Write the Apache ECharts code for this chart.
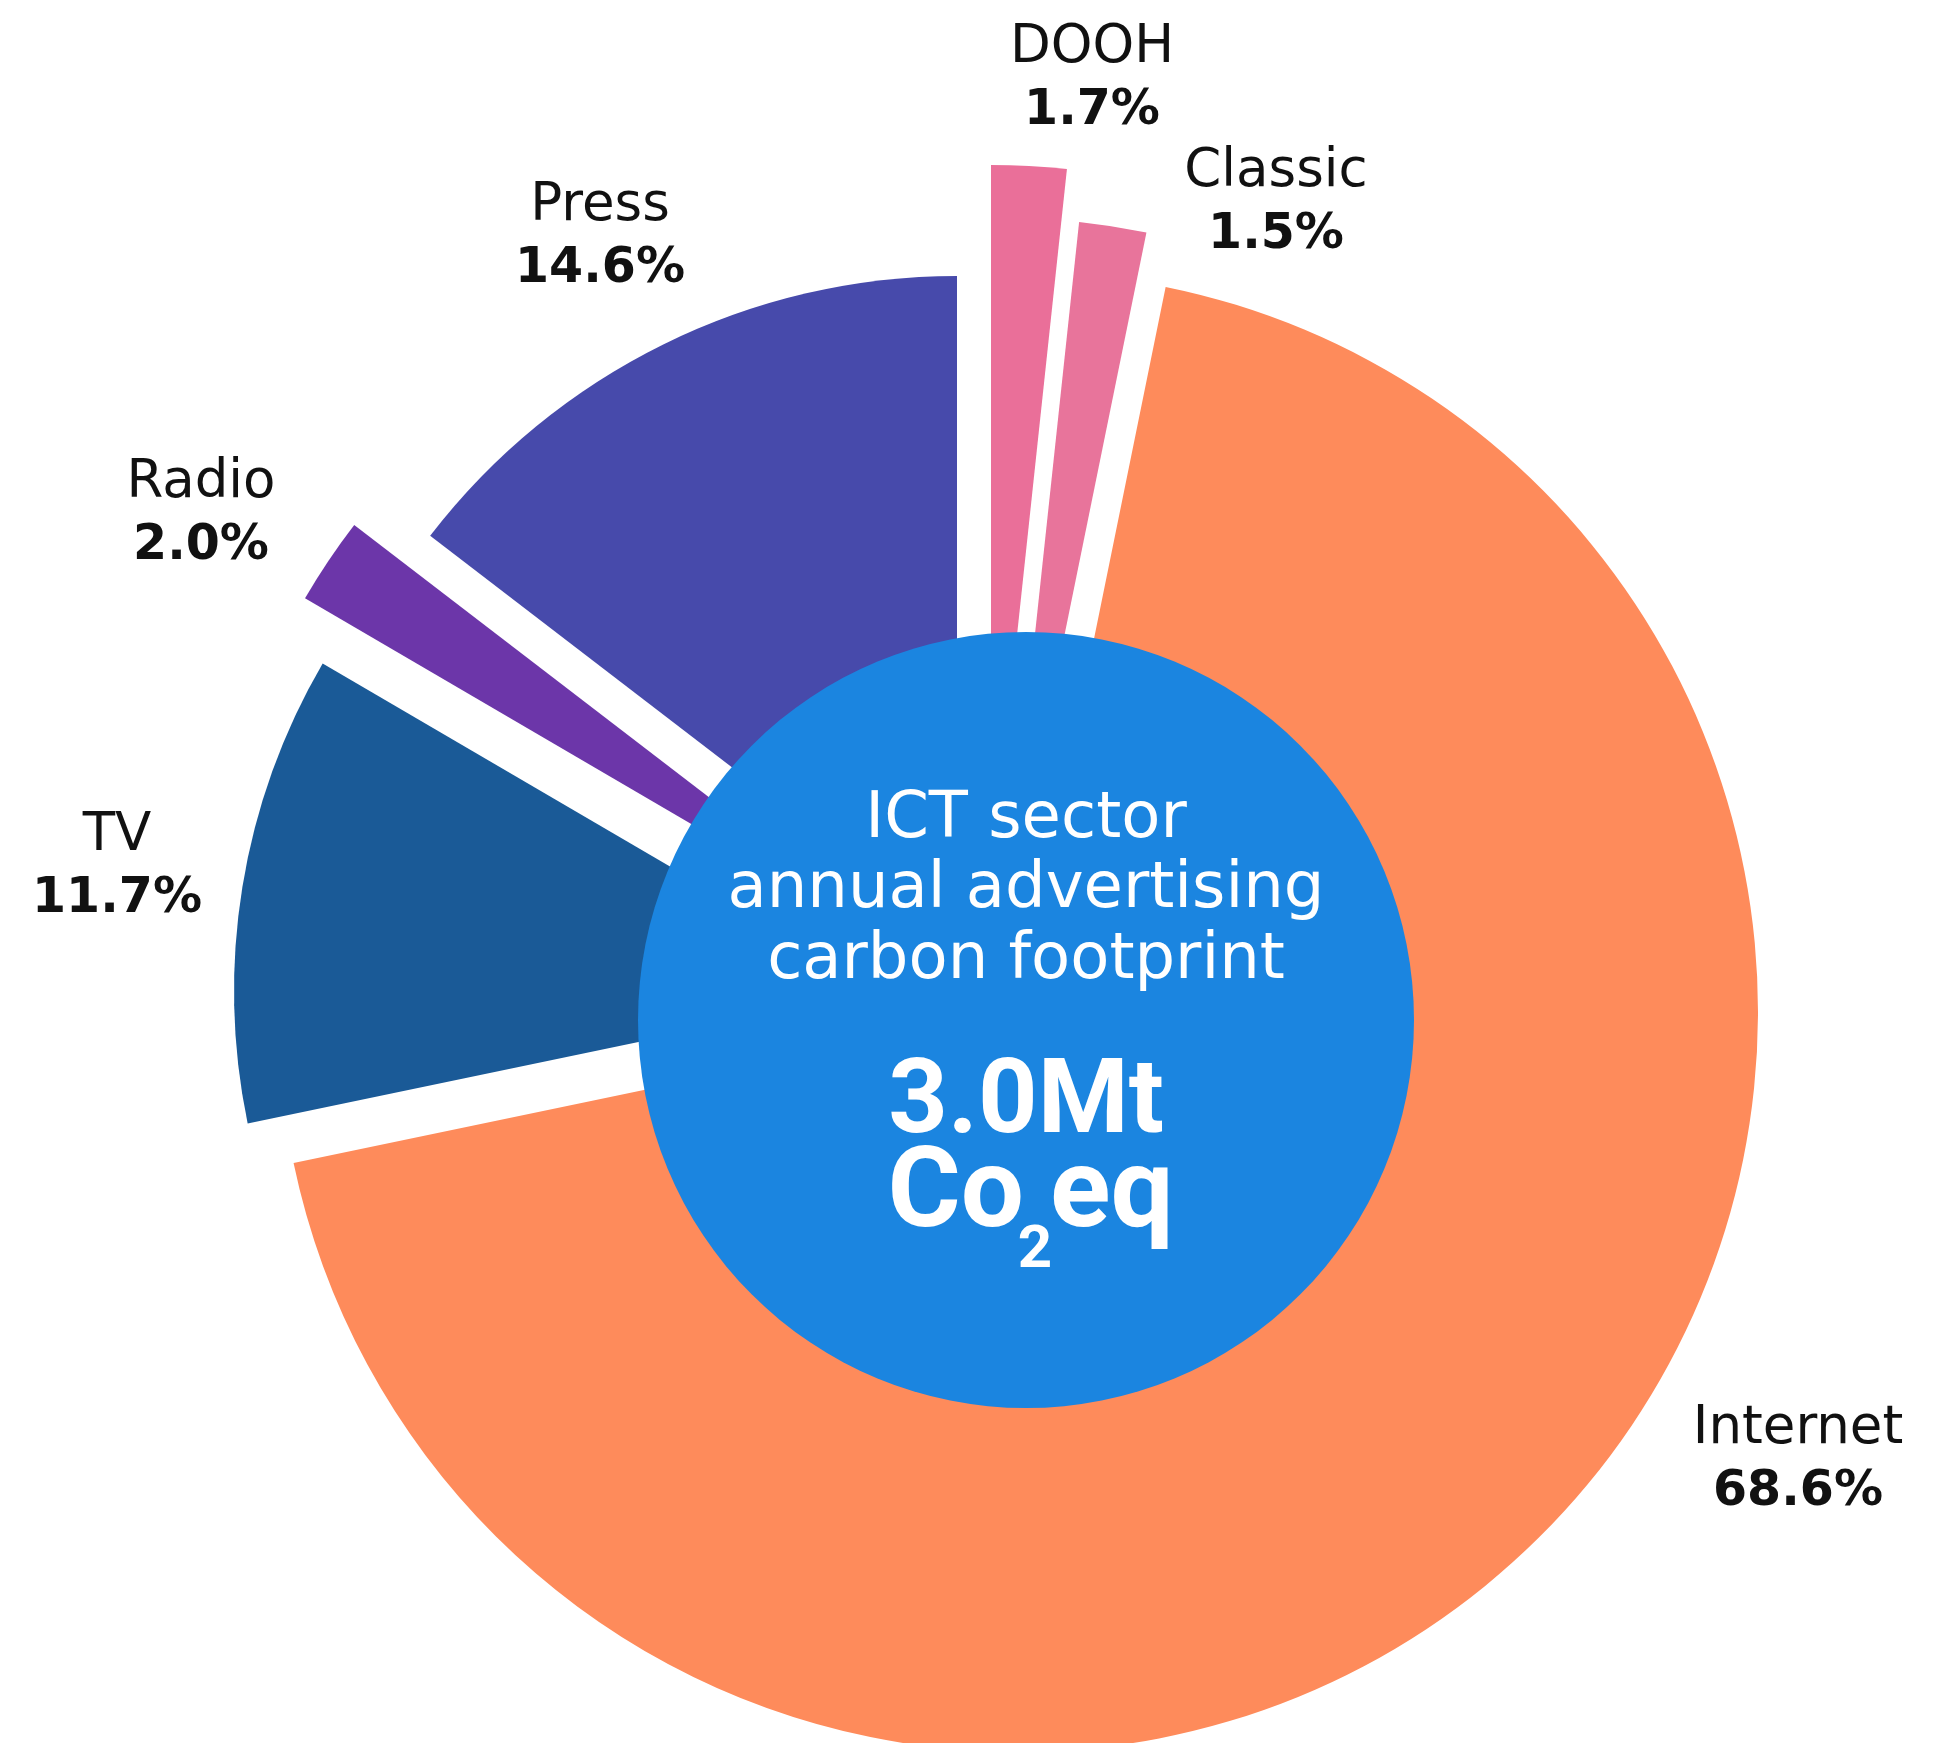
<!DOCTYPE html>
<html>
<head>
<meta charset="utf-8">
<script src="https://cdn.jsdelivr.net/npm/echarts@6/dist/echarts.min.js"></script>
<style>
html,body{margin:0;padding:0;background:#ffffff;}
#chart{width:1957px;height:1743px;}
</style>
</head>
<body>
<div id="chart"></div>
<script>
// ---- data ----
const categories = ['DOOH', 'Classic', 'Internet', 'TV', 'Radio', 'Press'];
const shares = [1.7, 1.5, 68.6, 11.7, 2.0, 14.6];
const centerLines = ['ICT sector', 'annual advertising', 'carbon footprint'];
const totalValue = '3.0Mt';

// ---- style / layout ----
const colors = ['#ea6f99', '#e8749b', '#fe8b5b', '#1a5a97', '#6c36a9', '#474aab'];
const sliceCenters = [[991, 878], [1002, 942], [1018, 1012], [883, 991], [912, 953], [957, 940]];
const sliceRadii = [713, 724, 740, 649, 703, 664];
const labelPos = [[1092, 80], [1276, 204], [1798, 1461], [117, 868], [201, 515], [600, 238]];
const hub = {cx: 1026, cy: 1020, r: 388};

const chart = echarts.init(document.getElementById('chart'), null, {renderer: 'canvas'});

const series = categories.map((cat, k) => ({
  type: 'pie',
  center: sliceCenters[k],
  radius: [0, sliceRadii[k]],
  startAngle: 90,
  clockwise: true,
  silent: true,
  animation: false,
  avoidLabelOverlap: false,
  z: 2,
  itemStyle: {borderWidth: 0},
  labelLine: {show: false},
  emphasis: {disabled: true},
  label: {
    show: true,
    position: 'outside',
    formatter: p => '{n|' + p.name + '}\n{v|' + Number(p.value).toFixed(1) + '%}',
    rich: {
      n: {fontFamily: 'DejaVu Sans', fontSize: 53, color: '#111111', lineHeight: 63, align: 'center'},
      v: {fontFamily: 'DejaVu Sans', fontWeight: 'bold', fontSize: 49, color: '#111111', lineHeight: 63, align: 'center'}
    }
  },
  labelLayout: p => (p.dataIndex === k
    ? {x: labelPos[k][0], y: labelPos[k][1], align: 'center', verticalAlign: 'middle'}
    : {}),
  data: categories.map((name, i) => ({
    name: name,
    value: shares[i],
    itemStyle: {color: i === k ? colors[i] : 'rgba(0,0,0,0)', borderWidth: 0},
    label: {show: i === k}
  }))
}));

const txt = (text, x, y, font, align) => ({
  type: 'text', x: x, y: y, z: 101, silent: true,
  style: {text: text, fill: '#ffffff', font: font,
    align: align || 'center', verticalAlign: 'middle',
    textAlign: align || 'center', textVerticalAlign: 'middle'}
});

chart.setOption({
  backgroundColor: '#ffffff',
  animation: false,
  series: series,
  graphic: [
    {type: 'circle', z: 100, silent: true, shape: {cx: hub.cx, cy: hub.cy, r: hub.r}, style: {fill: '#1b85e0'}},
    txt(centerLines[0], 1026, 820, '64px "DejaVu Sans"'),
    txt(centerLines[1], 1026, 890, '64px "DejaVu Sans"'),
    txt(centerLines[2], 1026, 961, '64px "DejaVu Sans"'),
    txt(totalValue, 1026, 1106, 'bold 104px Roboto'),
    txt('Co', 1024, 1198, 'bold 112px Roboto', 'right'),
    txt('2', 1035, 1252, 'bold 60px Roboto'),
    txt('eq', 1050, 1198, 'bold 112px Roboto', 'left')
  ]
});
</script>
</body>
</html>
